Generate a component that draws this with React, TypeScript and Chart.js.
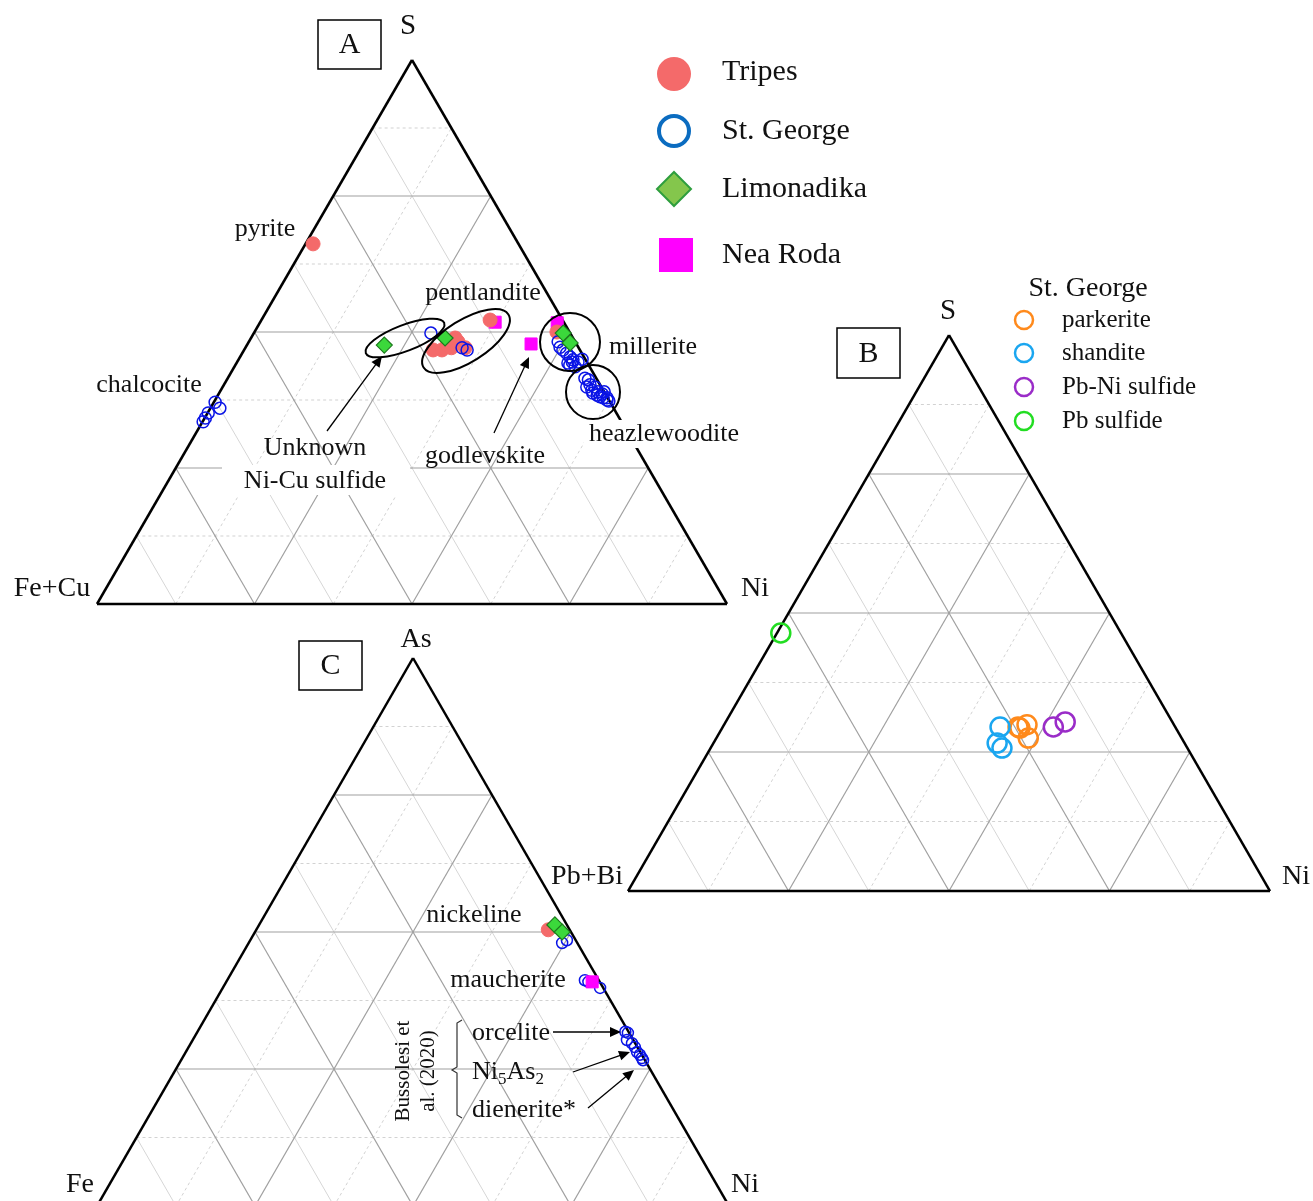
import React, { useEffect, useRef } from 'react';
import { Chart, registerables } from 'chart.js';

Chart.register(...registerables);

type Pt = [number, number]; // [top apex %, right apex %]

// ---------- Diagram A : S (top) – Fe+Cu (left) – Ni (right), [S, Ni] ----------
const A_TRIPES: Pt[] = [
  [66.2, 1.2],
  [46.7, 30.0], [46.7, 31.4], [47.6, 31.8], [48.9, 32.4], [48.2, 33.2], [47.1, 34.9], [47.1, 32.7],
  [52.2, 36.3],
  [50.0, 48.0],
];
const A_ST_GEORGE: Pt[] = [
  [37.1, 0.2], [36.0, 1.5], [35.1, 0.1], [34.2, 0.1], [33.5, 0.1],
  [49.8, 28.1], [47.1, 34.4], [46.7, 35.4],
  [48.2, 49.1], [47.2, 49.9], [46.7, 50.6], [46.1, 51.5], [45.4, 52.4], [44.9, 53.1],
  [43.9, 53.1], [43.6, 54.1], [44.5, 54.1], [45.0, 54.5], [44.5, 53.2], [44.3, 52.6],
  [41.5, 56.7], [41.2, 57.4], [40.3, 58.1], [39.9, 57.8], [39.3, 58.9], [38.8, 59.3],
  [38.4, 60.2], [38.1, 60.8], [37.9, 61.4], [37.5, 62.2], [39.9, 59.1], [39.0, 60.0],
  [38.6, 60.9], [39.0, 61.0], [37.9, 62.0], [37.3, 62.6],
];
const A_LIMONADIKA: Pt[] = [[47.6, 21.8], [48.9, 30.8], [49.8, 49.1], [48.0, 51.1]];
const A_NEA_RODA: Pt[] = [[51.8, 37.3], [47.8, 45.0], [51.7, 47.2]];

// ---------- Diagram B : S (top) – Pb+Bi (left) – Ni (right), [S, Ni] ----------
const B_PARKERITE: Pt[] = [[29.5, 46.0], [29.9, 47.2], [27.5, 48.6], [29.3, 46.4]];
const B_SHANDITE: Pt[] = [[29.5, 43.2], [26.6, 44.2], [25.7, 45.4]];
const B_PBNI_SULFIDE: Pt[] = [[29.5, 51.5], [30.4, 52.9]];
const B_PB_SULFIDE: Pt[] = [[46.4, 0.6]];

// ---------- Diagram C : As (top) – Fe (left) – Ni (right), [As, Ni] ----------
const C_TRIPES: Pt[] = [[50.4, 46.2]];
const C_ST_GEORGE: Pt[] = [
  [48.0, 49.6], [48.5, 50.1],
  [41.2, 56.6], [40.9, 57.3], [39.8, 59.7],
  [31.8, 67.7], [31.6, 68.2], [30.3, 68.7], [29.7, 69.8], [29.0, 70.6],
  [28.1, 71.4], [27.6, 72.1], [27.0, 72.7], [26.6, 73.1],
];
const C_LIMONADIKA: Pt[] = [[51.3, 46.8], [50.0, 48.6]];
const C_NEA_RODA: Pt[] = [[40.9, 57.9]];

// ---------- layout ----------
type Tri = { xL: number; xR: number; yB: number; yT: number };
const TRI_A: Tri = { xL: 97, xR: 727, yB: 604, yT: 60 };
const TRI_B: Tri = { xL: 628, xR: 1270, yB: 891, yT: 335 };
const TRI_C: Tri = { xL: 97, xR: 729, yB: 1206, yT: 658 };

const SERIF = '"Liberation Serif", "Times New Roman", serif';
const W = 1313;
const H = 1201;

function toXY(tri: Tri, top: number, right: number) {
  const t = top / 100;
  const r = right / 100;
  return { x: tri.xL + (r + t / 2) * (tri.xR - tri.xL), y: tri.yB - t * (tri.yB - tri.yT) };
}

function frameDatasets(tri: Tri): any[] {
  const ds: any[] = [];
  const seg = (p1: Pt, p2: Pt, color: string, width: number, dash: number[], order: number) => {
    ds.push({
      data: [toXY(tri, p1[0], p1[1]), toXY(tri, p2[0], p2[1])],
      showLine: true,
      borderColor: color,
      borderWidth: width,
      borderDash: dash,
      pointRadius: 0,
      pointHoverRadius: 0,
      fill: false,
      clip: false,
      order,
    });
  };
  for (let k = 1; k < 8; k++) {
    const f = k * 12.5;
    const major = k % 2 === 0;
    if (major) {
      seg([f, 0], [f, 100 - f], '#a0a0a0', 1.2, [], 30);
      seg([0, f], [100 - f, f], '#a0a0a0', 1.2, [], 30);
      seg([0, 100 - f], [100 - f, 0], '#a0a0a0', 1.2, [], 30);
    } else {
      seg([f, 0], [f, 100 - f], '#d2d2d2', 1, [3, 3], 31);
      seg([0, f], [100 - f, f], '#d2d2d2', 1, [3, 3], 31);
      seg([0, 100 - f], [100 - f, 0], '#d6d6d6', 1, [], 31);
    }
  }
  seg([0, 0], [0, 100], '#000', 2.5, [], 20);
  seg([0, 0], [100, 0], '#000', 2.5, [], 20);
  seg([0, 100], [100, 0], '#000', 2.5, [], 20);
  return ds;
}

function points(tri: Tri, pts: Pt[], style: any, order: number) {
  return {
    data: pts.map(([t, r]) => toXY(tri, t, r)),
    showLine: false,
    clip: false,
    order,
    ...style,
  };
}

const TRIPES_STYLE = { pointStyle: 'circle', pointRadius: 7, backgroundColor: '#f46a6a', borderColor: '#f46a6a', borderWidth: 1 };
const STG_STYLE = { pointStyle: 'circle', pointRadius: 6, backgroundColor: 'rgba(0,0,0,0)', borderColor: '#0a14e6', borderWidth: 1.5 };
const LIMO_STYLE = { pointStyle: 'rectRot', pointRadius: 8, backgroundColor: '#3bd83b', borderColor: '#1c7a1c', borderWidth: 1.2 };
const NEA_STYLE = { pointStyle: 'rect', pointRadius: 8.5, backgroundColor: '#ff00ff', borderColor: '#ff00ff', borderWidth: 1 };
const ring = (c: string) => ({ pointStyle: 'circle', pointRadius: 9.5, backgroundColor: 'rgba(0,0,0,0)', borderColor: c, borderWidth: 2.5 });

const B_COLORS = { parkerite: '#ff8a1c', shandite: '#1aa6f0', pbni: '#9a2cc8', pb: '#22dd22' };

type Lbl = { t: string; x: number; y: number; s: number; align?: CanvasTextAlign; bg?: [number, number, number, number] };
const LABELS: Lbl[] = [
  // A
  { t: 'S', x: 408, y: 26, s: 29 },
  { t: 'Fe+Cu', x: 52, y: 589, s: 28 },
  { t: 'Ni', x: 755, y: 589, s: 28 },
  { t: 'pyrite', x: 265, y: 229, s: 26 },
  { t: 'chalcocite', x: 149, y: 385, s: 26 },
  { t: 'pentlandite', x: 483, y: 293, s: 26 },
  { t: 'millerite', x: 653, y: 347, s: 26 },
  { t: 'heazlewoodite', x: 664, y: 434, s: 26, bg: [584, 420, 160, 28] },
  { t: 'Unknown', x: 315, y: 448, s: 26 },
  { t: 'Ni-Cu sulfide', x: 315, y: 481, s: 26, bg: [222, 465, 188, 30] },
  { t: 'godlevskite', x: 485, y: 456, s: 26 },
  // B
  { t: 'S', x: 948, y: 311, s: 29 },
  { t: 'Pb+Bi', x: 587, y: 877, s: 28 },
  { t: 'Ni', x: 1296, y: 877, s: 28 },
  { t: 'St. George', x: 1088, y: 289, s: 28 },
  { t: 'parkerite', x: 1062, y: 320, s: 25, align: 'left' },
  { t: 'shandite', x: 1062, y: 353, s: 25, align: 'left' },
  { t: 'Pb-Ni sulfide', x: 1062, y: 387, s: 25, align: 'left' },
  { t: 'Pb sulfide', x: 1062, y: 421, s: 25, align: 'left' },
  // C
  { t: 'As', x: 416, y: 640, s: 28 },
  { t: 'Fe', x: 80, y: 1185, s: 28 },
  { t: 'Ni', x: 745, y: 1185, s: 28 },
  { t: 'nickeline', x: 474, y: 915, s: 26 },
  { t: 'maucherite', x: 508, y: 980, s: 26 },
  { t: 'orcelite', x: 472, y: 1033, s: 26, align: 'left' },
  { t: 'dienerite*', x: 472, y: 1110, s: 26, align: 'left' },
  // legend A
  { t: 'Tripes', x: 722, y: 72, s: 30, align: 'left' },
  { t: 'St. George', x: 722, y: 131, s: 30, align: 'left' },
  { t: 'Limonadika', x: 722, y: 189, s: 30, align: 'left' },
  { t: 'Nea Roda', x: 722, y: 255, s: 30, align: 'left' },
];

const BOXES = [
  { t: 'A', x: 318, y: 20, w: 63, h: 49 },
  { t: 'B', x: 837, y: 328, w: 63, h: 50 },
  { t: 'C', x: 299, y: 641, w: 63, h: 49 },
];

const ELLIPSES = [
  { cx: 405, cy: 338, rx: 42, ry: 13, rot: -21 },
  { cx: 466, cy: 341, rx: 50, ry: 21, rot: -32 },
  { cx: 570, cy: 342, rx: 30, ry: 29, rot: 0 },
  { cx: 593, cy: 392, rx: 27, ry: 27, rot: 0 },
];

const ARROWS = [
  { x1: 327, y1: 431, x2: 382, y2: 356 },
  { x1: 494, y1: 433, x2: 529, y2: 357 },
  { x1: 553, y1: 1032, x2: 621, y2: 1032 },
  { x1: 573, y1: 1072, x2: 630, y2: 1052 },
  { x1: 588, y1: 1108, x2: 634, y2: 1070 },
];

const annotationPlugin = {
  id: 'ternaryAnnotations',
  afterDatasetsDraw(chart: any) {
    const ctx: CanvasRenderingContext2D = chart.ctx;
    const px = (v: number) => chart.scales.x.getPixelForValue(v);
    const py = (v: number) => chart.scales.y.getPixelForValue(v);
    ctx.save();

    // ellipses
    ctx.strokeStyle = '#000';
    ctx.lineWidth = 2;
    for (const e of ELLIPSES) {
      ctx.beginPath();
      ctx.ellipse(px(e.cx), py(e.cy), e.rx, e.ry, (e.rot * Math.PI) / 180, 0, Math.PI * 2);
      ctx.stroke();
    }

    // arrows
    for (const a of ARROWS) {
      const x1 = px(a.x1), y1 = py(a.y1), x2 = px(a.x2), y2 = py(a.y2);
      const ang = Math.atan2(y2 - y1, x2 - x1);
      const hl = 11, hw = 5;
      ctx.lineWidth = 1.3;
      ctx.beginPath();
      ctx.moveTo(x1, y1);
      ctx.lineTo(x2 - Math.cos(ang) * hl * 0.8, y2 - Math.sin(ang) * hl * 0.8);
      ctx.stroke();
      ctx.beginPath();
      ctx.moveTo(x2, y2);
      ctx.lineTo(x2 - Math.cos(ang) * hl - Math.sin(ang) * hw, y2 - Math.sin(ang) * hl + Math.cos(ang) * hw);
      ctx.lineTo(x2 - Math.cos(ang) * hl + Math.sin(ang) * hw, y2 - Math.sin(ang) * hl - Math.cos(ang) * hw);
      ctx.closePath();
      ctx.fillStyle = '#000';
      ctx.fill();
    }

    // bracket
    ctx.lineWidth = 1.2;
    ctx.strokeStyle = '#333';
    ctx.beginPath();
    ctx.moveTo(px(462), py(1020));
    ctx.lineTo(px(457), py(1023));
    ctx.lineTo(px(457), py(1067));
    ctx.lineTo(px(452), py(1070));
    ctx.lineTo(px(457), py(1073));
    ctx.lineTo(px(457), py(1115));
    ctx.lineTo(px(462), py(1118));
    ctx.stroke();

    // labels
    ctx.textBaseline = 'middle';
    for (const l of LABELS) {
      if (l.bg) {
        ctx.fillStyle = '#fff';
        ctx.fillRect(px(l.bg[0]), py(l.bg[1]), l.bg[2], l.bg[3]);
      }
      ctx.font = `${l.s}px ${SERIF}`;
      ctx.fillStyle = '#111';
      ctx.textAlign = l.align || 'center';
      ctx.fillText(l.t, px(l.x), py(l.y));
    }

    // Ni5As2 with subscripts
    {
      let x = px(472);
      const y = py(1072);
      ctx.textAlign = 'left';
      const parts: [string, boolean][] = [['Ni', false], ['5', true], ['As', false], ['2', true]];
      for (const [t, sub] of parts) {
        ctx.font = `${sub ? 17 : 26}px ${SERIF}`;
        ctx.fillText(t, x, sub ? y + 8 : y);
        x += ctx.measureText(t).width;
      }
    }

    // rotated reference text
    ctx.save();
    ctx.font = `21px ${SERIF}`;
    ctx.textAlign = 'center';
    ctx.translate(px(403), py(1071));
    ctx.rotate(-Math.PI / 2);
    ctx.fillText('Bussolesi et', 0, 0);
    ctx.restore();
    ctx.save();
    ctx.font = `21px ${SERIF}`;
    ctx.textAlign = 'center';
    ctx.translate(px(428), py(1071));
    ctx.rotate(-Math.PI / 2);
    ctx.fillText('al. (2020)', 0, 0);
    ctx.restore();

    // panel boxes
    for (const b of BOXES) {
      ctx.strokeStyle = '#000';
      ctx.lineWidth = 1.5;
      ctx.strokeRect(px(b.x), py(b.y), b.w, b.h);
      ctx.font = `30px ${SERIF}`;
      ctx.textAlign = 'center';
      ctx.fillStyle = '#111';
      ctx.fillText(b.t, px(b.x) + b.w / 2, py(b.y) + b.h / 2 + 1);
    }

    // legend A markers
    ctx.fillStyle = '#f46a6a';
    ctx.beginPath();
    ctx.arc(px(674), py(74), 17, 0, Math.PI * 2);
    ctx.fill();
    ctx.strokeStyle = '#0b6cc0';
    ctx.lineWidth = 4;
    ctx.beginPath();
    ctx.arc(px(674), py(131), 15, 0, Math.PI * 2);
    ctx.stroke();
    ctx.beginPath();
    ctx.moveTo(px(674), py(172));
    ctx.lineTo(px(691), py(189));
    ctx.lineTo(px(674), py(206));
    ctx.lineTo(px(657), py(189));
    ctx.closePath();
    ctx.fillStyle = '#84c64c';
    ctx.fill();
    ctx.strokeStyle = '#2e9e3e';
    ctx.lineWidth = 2;
    ctx.stroke();
    ctx.fillStyle = '#ff00ff';
    ctx.fillRect(px(659), py(238), 34, 34);

    // legend B markers
    const bl: [string, number][] = [
      [B_COLORS.parkerite, 320],
      [B_COLORS.shandite, 353],
      [B_COLORS.pbni, 387],
      [B_COLORS.pb, 421],
    ];
    ctx.lineWidth = 2.5;
    for (const [c, y] of bl) {
      ctx.strokeStyle = c;
      ctx.beginPath();
      ctx.arc(px(1024), py(y), 9, 0, Math.PI * 2);
      ctx.stroke();
    }

    ctx.restore();
  },
};

export default function App() {
  const ref = useRef<HTMLCanvasElement>(null);
  useEffect(() => {
    if (!ref.current) return;
    const datasets: any[] = [
      ...frameDatasets(TRI_A),
      ...frameDatasets(TRI_B),
      ...frameDatasets(TRI_C),
      points(TRI_A, A_NEA_RODA, NEA_STYLE, 4),
      points(TRI_A, A_TRIPES, TRIPES_STYLE, 3),
      points(TRI_A, A_ST_GEORGE, STG_STYLE, 2),
      points(TRI_A, A_LIMONADIKA, LIMO_STYLE, 1),
      points(TRI_C, C_NEA_RODA, NEA_STYLE, 2),
      points(TRI_C, C_TRIPES, TRIPES_STYLE, 3),
      points(TRI_C, C_ST_GEORGE, { ...STG_STYLE, pointRadius: 5.5 }, 4),
      points(TRI_C, C_LIMONADIKA, LIMO_STYLE, 1),
      points(TRI_B, B_SHANDITE, ring(B_COLORS.shandite), 1),
      points(TRI_B, B_PARKERITE, ring(B_COLORS.parkerite), 1),
      points(TRI_B, B_PBNI_SULFIDE, ring(B_COLORS.pbni), 1),
      points(TRI_B, B_PB_SULFIDE, ring(B_COLORS.pb), 1),
    ];
    const chart = new Chart(ref.current, {
      type: 'scatter',
      data: { datasets },
      options: {
        responsive: false,
        animation: false,
        events: [],
        layout: { padding: 0, autoPadding: false },
        plugins: { legend: { display: false }, tooltip: { enabled: false } },
        scales: {
          x: { type: 'linear', min: 0, max: W, display: false },
          y: { type: 'linear', min: 0, max: H, reverse: true, display: false },
        },
      },
      plugins: [annotationPlugin],
    } as any);
    return () => chart.destroy();
  }, []);
  return (
    <div style={{ position: 'fixed', left: 0, top: 0, width: W, height: H, background: '#fff' }}>
      <canvas ref={ref} width={W} height={H} style={{ width: W, height: H, display: 'block' }} />
    </div>
  );
}
